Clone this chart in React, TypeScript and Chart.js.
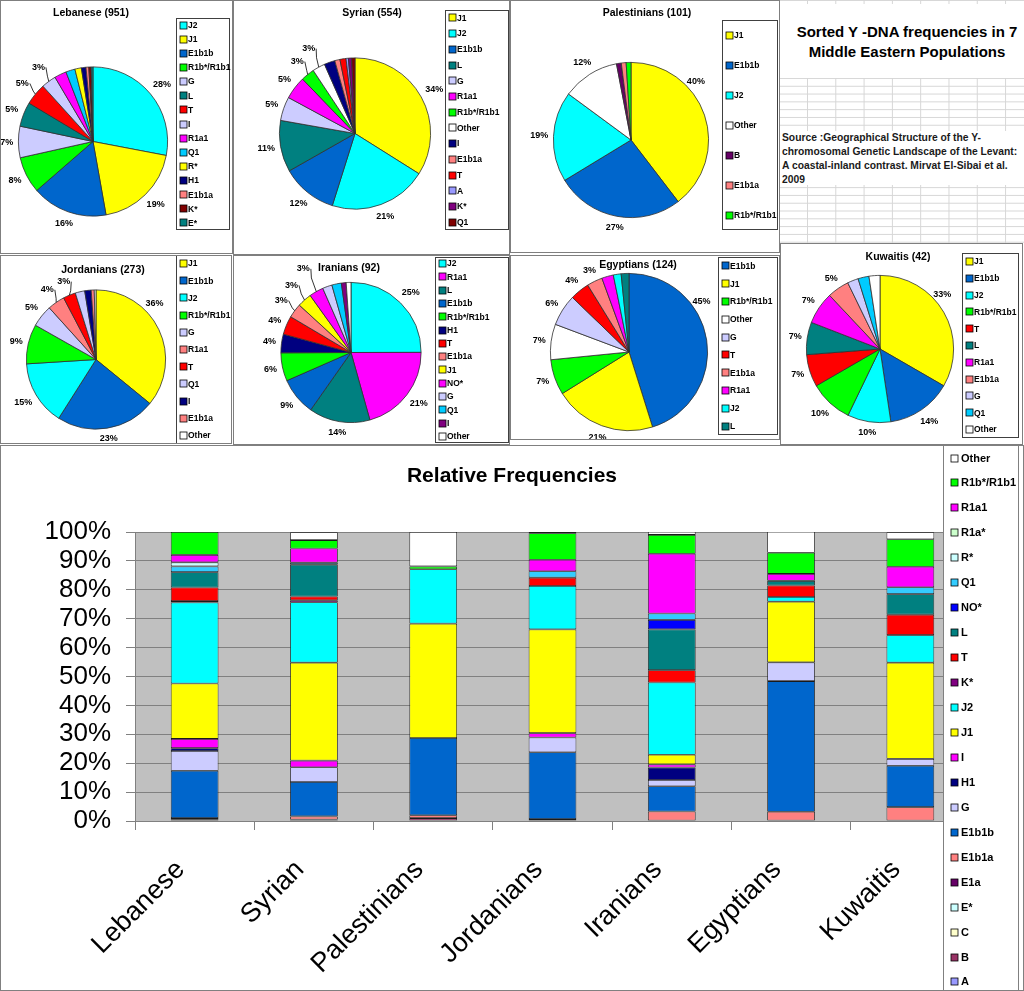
import React, { useEffect, useRef } from 'react';
import { Chart, registerables } from 'chart.js';

Chart.register(...registerables);

const FONT = '"Liberation Sans", Arial, sans-serif';

// ---------- data ----------
const populations = ['Lebanese', 'Syrian', 'Palestinians', 'Jordanians', 'Iranians', 'Egyptians', 'Kuwaitis'];
const sampleSizes = [951, 554, 101, 273, 92, 124, 42];

// stack order (bottom -> top) of the relative-frequency bar chart
const haplogroups = ['A', 'B', 'C', 'E*', 'E1a', 'E1b1a', 'E1b1b', 'G', 'H1', 'I', 'J1', 'J2', 'K*', 'T', 'L', 'NO*', 'Q1', 'R*', 'R1a*', 'R1a1', 'R1b*/R1b1', 'Other'];
const haploColors = ['#9999FF', '#993366', '#FFFFCC', '#CCFFFF', '#660066', '#FF8080', '#0066CC', '#CCCCFF', '#000080', '#FF00FF', '#FFFF00', '#00FFFF', '#800080', '#FF0000', '#008080', '#0000FF', '#33CCFF', '#CCFFFF', '#CCFFCC', '#FF00FF', '#00FF00', '#FFFFFF'];

const yTickStep = 10;

const lebaneseGroups = ['J2', 'J1', 'E1b1b', 'R1b*/R1b1', 'G', 'L', 'T', 'I', 'R1a1', 'Q1', 'R*', 'H1', 'E1b1a', 'K*', 'E*'];
const lebaneseValues = [28.0, 19.2, 16.4, 7.9, 6.8, 5.3, 4.7, 3.2, 2.6, 2.0, 1.4, 1.0, 0.6, 0.5, 0.4];

const syrianGroups = ['J1', 'J2', 'E1b1b', 'L', 'G', 'R1a1', 'R1b*/R1b1', 'Other', 'I', 'E1b1a', 'T', 'A', 'K*', 'Q1'];
const syrianValues = [33.9, 20.9, 11.9, 11.0, 5.1, 4.9, 2.9, 2.7, 2.3, 1.1, 1.3, 0.5, 0.7, 0.7];

const palestinianGroups = ['J1', 'E1b1b', 'J2', 'Other', 'B', 'E1b1a', 'R1b*/R1b1'];
const palestinianValues = [39.6, 26.7, 18.8, 11.9, 1.0, 1.0, 1.0];

const jordanianGroups = ['J1', 'E1b1b', 'J2', 'R1b*/R1b1', 'G', 'R1a1', 'T', 'Q1', 'I', 'E1b1a', 'Other'];
const jordanianValues = [35.9, 23.1, 15.0, 9.2, 5.1, 4.0, 2.9, 2.2, 1.5, 0.7, 0.4];

const iranianGroups = ['J2', 'R1a1', 'L', 'E1b1b', 'R1b*/R1b1', 'H1', 'T', 'E1b1a', 'J1', 'NO*', 'G', 'Q1', 'I', 'Other'];
const iranianValues = [25.0, 20.7, 14.1, 8.7, 6.5, 4.3, 4.3, 3.3, 3.3, 3.3, 2.2, 2.2, 1.1, 1.1];

const egyptianGroups = ['E1b1b', 'J1', 'R1b*/R1b1', 'Other', 'G', 'T', 'E1b1a', 'R1a1', 'J2', 'L'];
const egyptianValues = [45.2, 21.0, 7.3, 7.3, 6.5, 4.0, 3.2, 2.4, 1.6, 1.6];

const kuwaitiGroups = ['J1', 'E1b1b', 'J2', 'R1b*/R1b1', 'T', 'L', 'R1a1', 'E1b1a', 'G', 'Q1', 'Other'];
const kuwaitiValues = [33.3, 14.3, 9.5, 9.5, 7.1, 7.1, 7.1, 4.8, 2.4, 2.4, 2.4];

// number of slices carrying a percentage label in each pie
const labelCounts = [8, 8, 4, 7, 10, 7, 8];

const popGroups = [lebaneseGroups, syrianGroups, palestinianGroups, jordanianGroups, iranianGroups, egyptianGroups, kuwaitiGroups];
const popValues = [lebaneseValues, syrianValues, palestinianValues, jordanianValues, iranianValues, egyptianValues, kuwaitiValues];

// ---------- styles ----------
const Y = '#FFFF00', C = '#00FFFF', EB = '#0066CC', GR = '#00FF00', LV = '#CCCCFF', TL = '#008080', RD = '#FF0000', MG = '#FF00FF', SK = '#00CCFF', NV = '#000080', SA = '#FF8080', WH = '#FFFFFF';
const pieColors = [
  [C, Y, EB, GR, LV, TL, RD, LV, MG, SK, Y, NV, SA, '#800000', TL],
  [Y, C, EB, TL, LV, MG, GR, WH, NV, SA, RD, '#9999FF', '#800080', '#800000'],
  [Y, EB, C, WH, '#660066', SA, GR],
  [Y, EB, C, GR, LV, SA, RD, LV, NV, SA, WH],
  [C, MG, TL, EB, GR, NV, RD, SA, Y, MG, LV, SK, '#800080', WH],
  [EB, Y, GR, WH, LV, RD, SA, MG, C, TL],
  [Y, EB, C, GR, RD, TL, MG, SA, LV, SK, WH],
];

type PieLayout = {
  rect: number[];
  cx: number;
  cy: number;
  r: number;
  title: number[];
  legend: number[];
  pushes: Record<number, number>;
  angles: Record<number, number>;
};
const pieLayouts: PieLayout[] = [
  { rect: [0, 0, 233, 254], cx: 93, cy: 141.5, r: 75, title: [91, 13], legend: [176, 18, 54, 212], pushes: { 6: 4, 7: 5 }, angles: {} },
  { rect: [233, 0, 277, 255], cx: 122, cy: 133.5, r: 76, title: [139, 13], legend: [212, 10, 64, 220], pushes: { 6: 4, 7: 9 }, angles: {} },
  { rect: [510, 0, 270, 253], cx: 121, cy: 140, r: 78, title: [137, 13], legend: [212, 20, 56, 210], pushes: { 0: -5 }, angles: { 0: 48 } },
  { rect: [0, 255, 232, 189], cx: 96, cy: 104.5, r: 70, title: [103, 15], legend: [176, 0, 56, 189], pushes: { 0: -3, 5: 3, 6: 3 }, angles: { 0: 46 } },
  { rect: [233, 255, 277, 190], cx: 118, cy: 97.5, r: 70.5, title: [116, 13], legend: [202, 2, 74, 186], pushes: { 7: 4, 8: 7, 9: 14 }, angles: {} },
  { rect: [510, 255, 270, 185], cx: 119, cy: 97, r: 79, title: [128, 10], legend: [208, 2, 60, 178], pushes: { 0: -5 }, angles: { 0: 55 } },
  { rect: [780, 243, 243, 202], cx: 100, cy: 106, r: 74, title: [118, 14], legend: [182, 10, 57, 185], pushes: { 0: -6 }, angles: { 0: 49 } },
];

// ---------- pie panel ----------
function PiePanel({ idx }: { idx: number }) {
  const ref = useRef<HTMLCanvasElement>(null);
  const L = pieLayouts[idx];
  const [px, py, pw, ph] = L.rect;
  useEffect(() => {
    const groups = popGroups[idx];
    const values = popValues[idx];
    const colors = pieColors[idx];
    const total = values.reduce((a, b) => a + b, 0);
    const title = `${populations[idx]} (${sampleSizes[idx]})`;
    const decor = {
      id: 'pieDecor',
      beforeDraw(chart: any) {
        const ctx = chart.ctx;
        ctx.save();
        ctx.fillStyle = '#fff';
        ctx.fillRect(0, 0, pw, ph);
        ctx.restore();
      },
      afterDraw(chart: any) {
        const ctx = chart.ctx;
        const meta = chart.getDatasetMeta(0);
        ctx.save();
        // legend
        const [gx, gy, gw, gh] = L.legend;
        ctx.fillStyle = '#fff';
        ctx.fillRect(gx, gy, gw, gh);
        ctx.strokeStyle = '#404040';
        ctx.lineWidth = 1;
        ctx.strokeRect(gx + 0.5, gy + 0.5, gw - 1, gh - 1);
        const n = groups.length;
        const step = gh / n;
        ctx.font = `bold 8.5px ${FONT}`;
        ctx.textAlign = 'left';
        ctx.textBaseline = 'middle';
        groups.forEach((g, i) => {
          const yy = gy + (i + 0.5) * step;
          ctx.fillStyle = colors[i];
          ctx.fillRect(gx + 4, Math.round(yy - 3.5), 7, 7);
          ctx.strokeStyle = '#000';
          ctx.lineWidth = 0.8;
          ctx.strokeRect(gx + 4, Math.round(yy - 3.5), 7, 7);
          ctx.fillStyle = '#000';
          ctx.fillText(g, gx + 12, yy + 0.5);
        });
        // percentage labels
        ctx.font = `bold 9px ${FONT}`;
        ctx.fillStyle = '#000';
        ctx.textAlign = 'center';
        ctx.textBaseline = 'middle';
        meta.data.forEach((arc: any, i: number) => {
          if (i >= labelCounts[idx]) return;
          let mid = (arc.startAngle + arc.endAngle) / 2;
          if (L.angles[i] !== undefined) mid = ((L.angles[i] - 90) * Math.PI) / 180;
          const txt = Math.round((values[i] / total) * 100) + '%';
          const w = ctx.measureText(txt).width;
          const h = 9;
          const c = Math.cos(mid);
          const s = Math.sin(mid);
          const ext = (Math.abs(c) * w) / 2 + (Math.abs(s) * h) / 2;
          const push = L.pushes[i] || 0;
          const R = arc.outerRadius + 5 + ext + push;
          const lx = arc.x + c * R;
          const ly = arc.y + s * R;
          ctx.fillStyle = '#000';
          ctx.fillText(txt, lx, ly);
          if (push > 0) {
            const amid = (arc.startAngle + arc.endAngle) / 2;
            ctx.strokeStyle = '#000';
            ctx.lineWidth = 0.8;
            ctx.beginPath();
            const ex = lx - c * (ext + 1);
            const ey = ly - s * (ext + 1);
            ctx.moveTo(lx + (c < 0 ? w / 2 + 1 : -w / 2 - 1), ly);
            ctx.lineTo(ex + (c < 0 ? 4 : -4), ey + 2);
            ctx.lineTo(arc.x + Math.cos(amid) * arc.outerRadius, arc.y + Math.sin(amid) * arc.outerRadius);
            ctx.stroke();
          }
        });
        // title
        ctx.font = `bold 10.5px ${FONT}`;
        ctx.fillText(title, L.title[0], L.title[1]);
        // panel frame
        ctx.strokeStyle = '#7f7f7f';
        ctx.lineWidth = 1;
        ctx.strokeRect(0.5, 0.5, pw - 1, ph - 1);
        ctx.restore();
      },
    };
    const chart = new Chart(ref.current as HTMLCanvasElement, {
      type: 'pie',
      data: {
        labels: groups,
        datasets: [{ data: values, backgroundColor: colors, borderColor: '#303030', borderWidth: 0.8 }],
      },
      options: {
        responsive: false,
        animation: false,
        layout: {
          padding: { left: L.cx - L.r, top: L.cy - L.r, right: pw - L.cx - L.r, bottom: ph - L.cy - L.r },
        },
        plugins: { legend: { display: false }, tooltip: { enabled: false }, title: { display: false } },
      } as any,
      plugins: [decor],
    });
    return () => chart.destroy();
  }, [idx]);
  return (
    <canvas
      ref={ref}
      width={pw}
      height={ph}
      style={{ position: 'absolute', left: px, top: py, width: pw, height: ph }}
    />
  );
}

// ---------- bar panel ----------
function BarPanel() {
  const ref = useRef<HTMLCanvasElement>(null);
  const W = 1024;
  const H = 546;
  useEffect(() => {
    const datasets = haplogroups.map((h, k) => ({
      label: h,
      data: populations.map((_, j) => {
        const gi = popGroups[j].indexOf(h);
        return gi >= 0 ? popValues[j][gi] : 0;
      }),
      backgroundColor: haploColors[k],
      borderColor: '#1a1a1a',
      borderWidth: 0.8,
      borderSkipped: false,
      barPercentage: 0.4,
      categoryPercentage: 1,
    }));
    const decor = {
      id: 'barDecor',
      beforeDraw(chart: any) {
        const { ctx, chartArea: a } = chart;
        ctx.save();
        ctx.fillStyle = '#fff';
        ctx.fillRect(0, 0, W, H);
        ctx.fillStyle = '#C0C0C0';
        ctx.fillRect(a.left, a.top, a.right - a.left, a.bottom - a.top);
        ctx.restore();
      },
      afterDraw(chart: any) {
        const ctx = chart.ctx;
        ctx.save();
        ctx.fillStyle = '#000';
        ctx.font = `bold 21px ${FONT}`;
        ctx.textAlign = 'center';
        ctx.textBaseline = 'middle';
        ctx.fillText('Relative Frequencies', 512, 31);
        // legend
        const lx = 943;
        const lw = 76;
        ctx.fillStyle = '#fff';
        ctx.fillRect(lx, 0, lw, H);
        ctx.strokeStyle = '#808080';
        ctx.lineWidth = 1;
        ctx.strokeRect(lx + 0.5, 0.5, lw - 1, H - 1);
        const ds = chart.data.datasets.slice().reverse();
        const step = 24.95;
        ctx.font = `bold 11px ${FONT}`;
        ctx.textAlign = 'left';
        ds.forEach((d: any, i: number) => {
          const yy = 13 + i * step;
          ctx.fillStyle = d.backgroundColor;
          ctx.fillRect(lx + 8, Math.round(yy - 3.5), 7, 7);
          ctx.strokeStyle = '#000';
          ctx.lineWidth = 0.8;
          ctx.strokeRect(lx + 8, Math.round(yy - 3.5), 7, 7);
          ctx.fillStyle = '#000';
          ctx.fillText(d.label, lx + 18, yy + 0.5);
        });
        ctx.strokeStyle = '#808080';
        ctx.lineWidth = 1;
        ctx.strokeRect(0.5, 0.5, W - 1, H - 1);
        ctx.restore();
      },
    };
    const chart = new Chart(ref.current as HTMLCanvasElement, {
      type: 'bar',
      data: { labels: populations, datasets },
      options: {
        responsive: false,
        animation: false,
        layout: { padding: { top: 87, right: 54, left: 0, bottom: 0 } },
        plugins: { legend: { display: false }, tooltip: { enabled: false }, title: { display: false } },
        scales: {
          x: {
            stacked: true,
            offset: true,
            grid: { drawOnChartArea: false, drawTicks: true, tickLength: 9, color: '#808080', offset: true },
            border: { display: true, color: '#808080' },
            ticks: {
              autoSkip: false,
              maxRotation: 45,
              minRotation: 45,
              labelOffset: -14,
              padding: 24,
              color: '#000',
              font: { family: FONT, size: 27 },
            },
            afterFit: (s: any) => {
              s.height = 170;
            },
          },
          y: {
            stacked: true,
            min: 0,
            max: 100,
            grid: { color: '#808080', tickLength: 9, drawTicks: true },
            border: { display: true, color: '#808080' },
            ticks: {
              autoSkip: false,
              stepSize: yTickStep,
              padding: 15,
              color: '#000',
              font: { family: FONT, size: 26 },
              callback: (v: any) => v + '%',
            },
            afterFit: (s: any) => {
              s.width = 135;
            },
          },
        },
      } as any,
      plugins: [decor],
    });
    return () => chart.destroy();
  }, []);
  return (
    <canvas
      ref={ref}
      width={W}
      height={H}
      style={{ position: 'absolute', left: 0, top: 445, width: W, height: H }}
    />
  );
}

// ---------- text panel ----------
function TextPanel() {
  return (
    <div
      style={{
        position: 'absolute',
        left: 780,
        top: 0,
        width: 244,
        height: 243,
        backgroundColor: '#fff',
        backgroundImage:
          'linear-gradient(to bottom, #d6d6d6 1px, transparent 1px), linear-gradient(to right, #d6d6d6 1px, transparent 1px)',
        backgroundSize: '100% 7.8px, 28.3px 100%',
        backgroundPosition: '0 0, 27px 0',
        overflow: 'hidden',
      }}
    >
      <div
        style={{
          position: 'absolute',
          left: 0,
          top: 4,
          width: 254,
          height: 74,
          background: '#fff',
          textAlign: 'center',
          font: `bold 15px ${FONT}`,
          lineHeight: '20px',
          paddingTop: 18,
          boxSizing: 'border-box',
          color: '#000',
        }}
      >
        Sorted Y -DNA frequencies in 7
        <br />
        Middle Eastern Populations
      </div>
      <div
        style={{
          position: 'absolute',
          left: 0,
          top: 131,
          width: 244,
          height: 54,
          background: '#fff',
          font: `bold 10.3px ${FONT}`,
          lineHeight: '14px',
          paddingLeft: 2,
          boxSizing: 'border-box',
          color: '#1a1a1a',
          whiteSpace: 'nowrap',
        }}
      >
        Source :Geographical Structure of the Y-
        <br />
        chromosomal Genetic Landscape of the Levant:
        <br />
        A coastal-inland contrast. Mirvat El-Sibai et al.
        <br />
        2009
      </div>
    </div>
  );
}

export default function App() {
  return (
    <div
      style={{
        position: 'absolute',
        left: 0,
        top: 0,
        width: 1024,
        height: 991,
        background: '#fff',
        overflow: 'hidden',
        fontFamily: FONT,
      }}
    >
      {pieLayouts.map((_, i) => (
        <PiePanel key={i} idx={i} />
      ))}
      <TextPanel />
      <BarPanel />
    </div>
  );
}
